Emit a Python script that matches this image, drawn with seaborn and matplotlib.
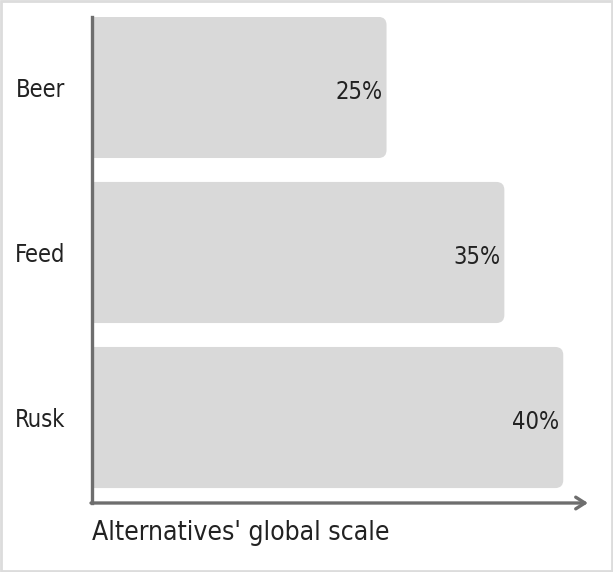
import matplotlib
matplotlib.use("Agg")
import matplotlib.pyplot as plt
from matplotlib.patches import FancyBboxPatch, Rectangle
import seaborn as sns
import pandas as pd

categories = ["Beer", "Feed", "Rusk"]
shares = [25, 35, 40]
value_labels = ["25%", "35%", "40%"]
x_label = "Alternatives' global scale"

sns.set_theme(style="white")
plt.rcParams["font.family"] = ["DejaVu Sans"]
plt.rcParams["font.stretch"] = "condensed"
plt.rcParams["font.weight"] = "light"

df = pd.DataFrame({"category": categories, "share": shares})

fig = plt.figure(figsize=(6.13, 5.72), dpi=100)
ax = fig.add_axes([92 / 613, 1 - 503 / 572, (588 - 92) / 613, (503 - 17) / 572])

sns.barplot(data=df, x="share", y="category", orient="h", color="#d9d9d9",
            width=0.855, ax=ax)
ax.set_xlim(0, 42.1)
ax.set_ylim(2.518, -0.427)
ax.grid(False)

# swap the plain bars for bars rounded on the right-hand side
fig.canvas.draw()
px_x = ax.transData.transform((1, 0))[0] - ax.transData.transform((0, 0))[0]
px_y = abs(ax.transData.transform((0, 1))[1] - ax.transData.transform((0, 0))[1])
radius_px = 8
r_x = radius_px / px_x
for p in list(ax.patches):
    x0, y0, w, h = p.get_x(), p.get_y(), p.get_width(), p.get_height()
    p.remove()
    box = FancyBboxPatch((x0 - 2 * r_x, y0), w + 2 * r_x, h,
                         boxstyle=f"round,pad=0,rounding_size={r_x}",
                         mutation_aspect=px_x / px_y,
                         facecolor="#d9d9d9", edgecolor="none", zorder=1)
    ax.add_patch(box)

for i, (v, lab) in enumerate(zip(shares, value_labels)):
    ax.annotate(lab, (v, i), xytext=(-3, -3), textcoords="offset points",
                ha="right", va="center", fontsize=17, color="#222222")

for s in ["top", "right", "bottom"]:
    ax.spines[s].set_visible(False)
ax.spines["left"].set_color("#6e6e6e")
ax.spines["left"].set_linewidth(2.4)
ax.spines["left"].set_zorder(3)

ax.annotate("", xy=(1.0, 0), xytext=(-0.002, 0), xycoords="axes fraction",
            arrowprops=dict(arrowstyle="->,head_length=0.55,head_width=0.35",
                            color="#6e6e6e", lw=2.4, shrinkA=0, shrinkB=0),
            annotation_clip=False)

ax.tick_params(axis="both", length=0)
ax.set_xticks([])
ax.set_ylabel("")
ax.tick_params(axis="y", pad=19, labelsize=17, labelcolor="#222222")
ax.set_xlabel(x_label, loc="left", fontsize=19, color="#222222", labelpad=12)

fig.patches.append(Rectangle((0.002, 0.002), 0.996, 0.996, transform=fig.transFigure,
                             fill=False, edgecolor="#dcdcdc", linewidth=2))

fig.savefig("out.png", dpi=100, facecolor="white")
